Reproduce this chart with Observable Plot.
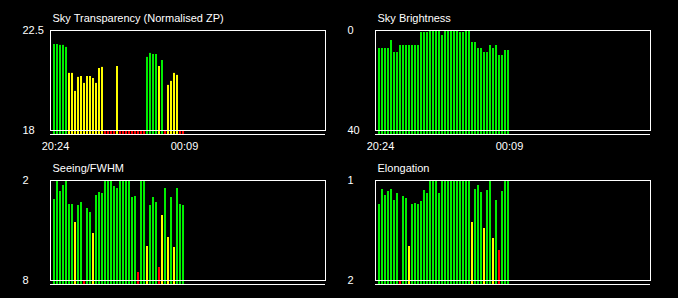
<!DOCTYPE html>
<html><head><meta charset="utf-8">
<script src="https://cdn.jsdelivr.net/npm/d3@7"></script>
<script src="https://cdn.jsdelivr.net/npm/@observablehq/plot@0.6"></script>
<style>
html,body{margin:0;padding:0;background:#000;}
#grid{display:grid;grid-template-columns:339px 339px;grid-template-rows:150px 148px;width:678px;height:298px;overflow:hidden;}
#grid svg{display:block;}
</style></head><body><div id="grid"></div>
<script>
// ---- data (one bar per exposure, 44 exposures) ----
const timeLabels = ["20:24", "00:09"];

const transparency = [21.87,21.87,21.83,21.83,21.74,20.57,20.57,19.76,20.39,20.43,20.12,20.43,20.43,20.34,20.12,20.79,20.84,
  17.6,17.6,17.6,17.6,20.88,17.6,17.6,17.6,17.6,17.6,17.6,17.6,17.6,17.6,
  21.29,21.47,21.42,21.42,20.88,21.15,17.6,20.03,20.21,20.57,20.48,17.6,17.6];

const brightness = [7.2,7.2,7.2,7.2,4.0,8.8,8.8,6.0,6.0,6.0,6.0,6.0,6.0,6.0,0.8,0.8,0.8,0,0,0,0,2.0,
  0,0,0,0,0,0.8,0.8,0,0,4.8,4.8,7.2,7.2,8.8,8.8,6.0,7.2,6.0,10,10,8,8];

const seeing = [3.14,2.0,2.66,2.30,2.0,3.44,3.44,4.52,3.50,3.32,8.5,3.68,3.92,5.18,2.90,2.72,2.78,2.0,2.0,2.0,
  2.36,2.48,2.0,2.0,2.0,2.0,3.02,2.96,7.52,2.0,2.0,5.96,3.50,3.02,3.32,7.22,4.10,2.48,5.42,3.02,6.02,2.48,3.44,3.50];

const elongation = [1.24,1.09,1.15,1.11,1.09,1.20,1.13,2.1,1.16,1.18,1.66,1.24,1.23,1.24,1.21,1.10,1.13,1.0,1.0,1.0,
  1.13,1.0,1.0,1.0,1.0,1.0,1.0,1.0,1.0,1.0,1.0,1.42,1.09,1.05,1.12,1.48,1.10,1.0,1.58,1.20,1.70,1.11,1.0,1.0];

const titles = ["Sky Transparency (Normalised ZP)", "Sky Brightness", "Seeing/FWHM", "Elongation"];
const yTicksTransparency = [22.5, 18];
const yTicksBrightness = [0, 40];
const yTicksSeeing = [2, 8];
const yTicksElongation = [1, 2];
// quality limits: [green limit, yellow limit]
const limitsTransparency = [21.0, 19.0];   // higher is better
const limitsBrightness = [20, 30];         // lower is better
const limitsSeeing = [4.0, 7.0];           // lower is better
const limitsElongation = [1.3, 1.68];      // lower is better

const GREEN = "#00ee00", YELLOW = "#ffff00", RED = "#ff0000";

function panel({title, values, ticks, limits, higherBetter, marginLeft, marginTop, height, showX}) {
  const data = values.map((v, i) => ({i, v}));
  const top = ticks[0], bottom = ticks[1];
  const color = (v) => higherBetter
    ? (v >= limits[0] ? GREEN : v >= limits[1] ? YELLOW : RED)
    : (v <= limits[0] ? GREEN : v <= limits[1] ? YELLOW : RED);
  const last = values.length - 1;
  const marks = [
    Plot.rect(data, {x1: d => d.i - 1/3, x2: d => d.i + 1/3, y1: bottom, y2: "v",
      fill: d => color(d.v), insetBottom: -4}),
    Plot.frame({stroke: "white"}),
    Plot.ruleY([bottom], {stroke: "white", dy: 4}),
    Plot.axisY(ticks, {tickSize: 0, tickPadding: 28, textAnchor: "start", label: null,
      tickFormat: d => String(d), fill: "white"}),
    Plot.text([title], {frameAnchor: "top-left", textAnchor: "start", lineAnchor: "bottom",
      dx: 2, dy: -9, fill: "white"})
  ];
  if (showX) marks.push(Plot.axisX([0, last], {tickSize: 0, tickPadding: 11.5, dx: 1, label: null,
    tickFormat: d => d === 0 ? timeLabels[0] : timeLabels[1], fill: "white"}));
  return Plot.plot({
    width: 339, height, marginLeft, marginRight: 339 - marginLeft - 275, marginTop,
    marginBottom: height - marginTop - 100,
    style: {background: "black", color: "white", fontFamily: "'Liberation Sans', Arial, sans-serif", fontSize: "11px", overflow: "visible"},
    x: {domain: [-4/3, 271/3], axis: null, label: null},
    y: {domain: [bottom, top], clamp: true, axis: null, label: null},
    marks
  });
}

const grid = document.getElementById("grid");
grid.append(
  panel({title: titles[0], values: transparency, ticks: yTicksTransparency, limits: limitsTransparency, higherBetter: true, marginLeft: 50, marginTop: 30, height: 150, showX: true}),
  panel({title: titles[1], values: brightness, ticks: yTicksBrightness, limits: limitsBrightness, higherBetter: false, marginLeft: 36, marginTop: 30, height: 150, showX: true}),
  panel({title: titles[2], values: seeing, ticks: yTicksSeeing, limits: limitsSeeing, higherBetter: false, marginLeft: 50, marginTop: 30, height: 148, showX: false}),
  panel({title: titles[3], values: elongation, ticks: yTicksElongation, limits: limitsElongation, higherBetter: false, marginLeft: 36, marginTop: 30, height: 148, showX: false})
);
</script></body></html>
